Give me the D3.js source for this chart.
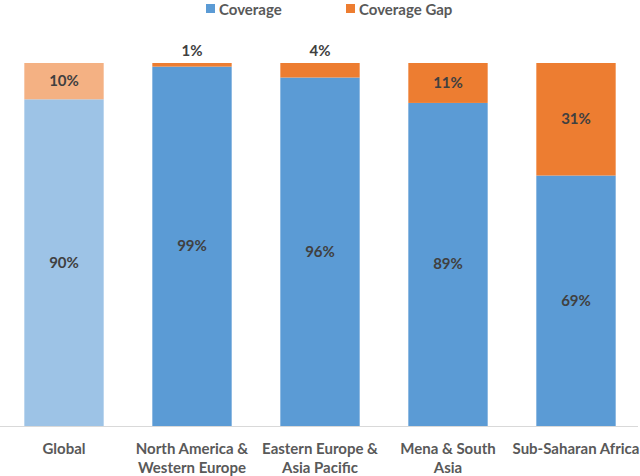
<!DOCTYPE html>
<html>
<head>
<meta charset="utf-8">
<script src="https://cdn.jsdelivr.net/npm/d3@7"></script>
<style>
  html, body { margin: 0; padding: 0; background: #fff; }
  svg { display: block; font-family: Lato, "Open Sans", sans-serif; }
  .legend-label, .cat-label { fill: #595959; font-weight: 700; font-size: 15px; }
  .value-label { fill: #404040; font-weight: 700; font-size: 15px; }
</style>
</head>
<body>
<div id="chart"></div>
<script>
const WIDTH = 640;
const HEIGHT = 476;

const categories = [
  ["Global"],
  ["North America &", "Western Europe"],
  ["Eastern Europe &", "Asia Pacific"],
  ["Mena & South", "Asia"],
  ["Sub-Saharan Africa"]
];
const coverage = [90, 99, 96, 89, 69];
const coverageGap = [10, 1, 4, 11, 31];
const seriesNames = ["Coverage", "Coverage Gap"];

const colors = {
  coverage: "#5b9bd5",
  gap: "#ed7d31",
  coverageLight: "#9dc3e6",
  gapLight: "#f4b183"
};

const svg = d3.select("#chart")
  .append("svg")
  .attr("width", WIDTH)
  .attr("height", HEIGHT);

const x = d3.scaleBand()
  .domain(d3.range(categories.length))
  .range([0, WIDTH])
  .paddingInner(0.38)
  .paddingOuter(0.19);

const y = d3.scaleLinear()
  .domain([0, 100])
  .range([426, 63]);

const rows = categories.map((label, i) => ({
  index: i,
  label,
  coverage: coverage[i],
  gap: coverageGap[i],
  highlight: i === 0
}));

// axis baseline
svg.append("line")
  .attr("x1", 0)
  .attr("x2", 638)
  .attr("y1", y(0) + 0.5)
  .attr("y2", y(0) + 0.5)
  .attr("stroke", "#d9d9d9")
  .attr("stroke-width", 1);

const bars = svg.append("g").attr("class", "bars")
  .selectAll("g")
  .data(rows)
  .join("g");

bars.append("rect")
  .attr("x", (d) => x(d.index))
  .attr("width", x.bandwidth())
  .attr("y", (d) => y(d.coverage))
  .attr("height", (d) => y(0) - y(d.coverage))
  .attr("fill", (d) => (d.highlight ? colors.coverageLight : colors.coverage));

bars.append("rect")
  .attr("x", (d) => x(d.index))
  .attr("width", x.bandwidth())
  .attr("y", (d) => y(d.coverage + d.gap))
  .attr("height", (d) => y(d.coverage) - y(d.coverage + d.gap))
  .attr("fill", (d) => (d.highlight ? colors.gapLight : colors.gap));

// value labels
bars.append("text")
  .attr("class", "value-label")
  .attr("text-anchor", "middle")
  .attr("x", (d) => x(d.index) + x.bandwidth() / 2)
  .attr("y", (d) => (y(0) + y(d.coverage)) / 2 + 5)
  .text((d) => `${d.coverage}%`);

bars.append("text")
  .attr("class", "value-label")
  .attr("text-anchor", "middle")
  .attr("x", (d) => x(d.index) + x.bandwidth() / 2)
  .attr("y", (d) => {
    if (d.gap < 6) {
      return y(d.coverage + d.gap) - 7;
    }
    return (y(d.coverage) + y(d.coverage + d.gap)) / 2 + 5;
  })
  .text((d) => `${d.gap}%`);

// category labels
const catLabels = svg.append("g")
  .selectAll("text")
  .data(rows)
  .join("text")
  .attr("class", "cat-label")
  .attr("text-anchor", "middle")
  .attr("x", (d) => x(d.index) + x.bandwidth() / 2)
  .attr("y", 454);

catLabels.selectAll("tspan")
  .data((d) => d.label.map((line) => ({ line, cx: x(d.index) + x.bandwidth() / 2 })))
  .join("tspan")
  .attr("x", (d) => d.cx)
  .attr("dy", (d, i) => (i === 0 ? 0 : 19))
  .text((d) => d.line);

// legend
const legendItems = [
  { name: seriesNames[0], color: colors.coverage, x: 206 },
  { name: seriesNames[1], color: colors.gap, x: 346 }
];

const legend = svg.append("g")
  .selectAll("g")
  .data(legendItems)
  .join("g")
  .attr("transform", (d) => `translate(${d.x},0)`);

legend.append("rect")
  .attr("x", 0)
  .attr("y", 4)
  .attr("width", 9)
  .attr("height", 9)
  .attr("fill", (d) => d.color);

legend.append("text")
  .attr("class", "legend-label")
  .attr("x", 13)
  .attr("y", 14.5)
  .text((d) => d.name);
</script>
</body>
</html>
